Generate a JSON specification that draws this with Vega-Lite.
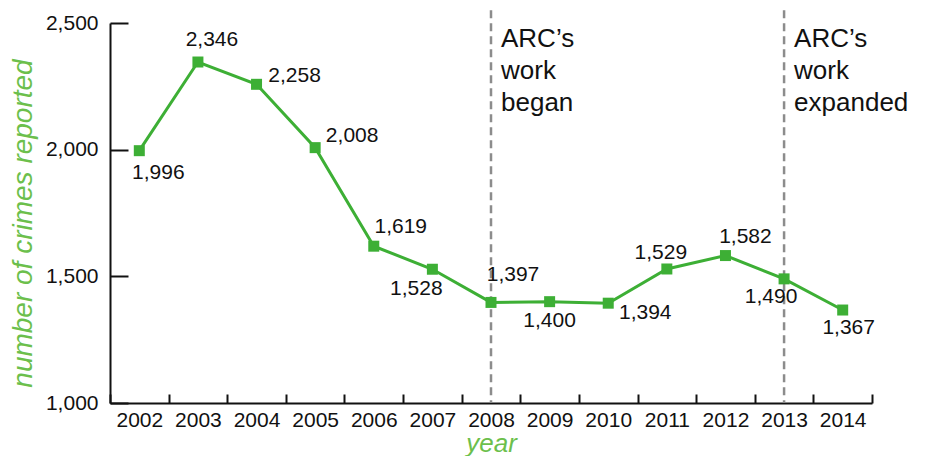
{
  "$schema": "https://vega.github.io/schema/vega-lite/v6.json",
  "width": 762,
  "height": 380,
  "autosize": {"type": "none"},
  "padding": {"left": 110, "top": 23, "right": 53, "bottom": 53},
  "background": "white",
  "config": {
    "font": "Liberation Sans",
    "view": {"stroke": null},
    "axis": {"grid": false, "domainColor": "#111", "tickColor": "#111", "labelColor": "#111", "domainWidth": 2, "tickWidth": 2, "labelFontSize": 21, "titleFontSize": 26, "titleFontStyle": "italic", "titleFontWeight": "normal", "titleColor": "#6cbf4c"}
  },
  "datasets": {
    "crimes": [
      {"year": 2002, "crimes": 1996},
      {"year": 2003, "crimes": 2346},
      {"year": 2004, "crimes": 2258},
      {"year": 2005, "crimes": 2008},
      {"year": 2006, "crimes": 1619},
      {"year": 2007, "crimes": 1528},
      {"year": 2008, "crimes": 1397},
      {"year": 2009, "crimes": 1400},
      {"year": 2010, "crimes": 1394},
      {"year": 2011, "crimes": 1529},
      {"year": 2012, "crimes": 1582},
      {"year": 2013, "crimes": 1490},
      {"year": 2014, "crimes": 1367}
    ],
    "events": [
      {"year": 2008, "note": "ARC’s\nwork\nbegan"},
      {"year": 2013, "note": "ARC’s\nwork\nexpanded"}
    ]
  },
  "data": {"name": "crimes"},
  "encoding": {
    "x": {
      "field": "year", "type": "ordinal", "title": "year",
      "scale": {"type": "band", "paddingInner": 0, "paddingOuter": 0, "domain": [2002,2003,2004,2005,2006,2007,2008,2009,2010,2011,2012,2013,2014]},
      "axis": {"labelAngle": 0, "tickBand": "extent", "tickSize": -9, "labelPadding": 15, "titlePadding": 0}
    }
  },
  "layer": [
    {
      "data": {"name": "events"},
      "mark": {"type": "rule", "stroke": "#8c8c8c", "strokeWidth": 2.5, "strokeDash": [8, 5]},
      "encoding": {"y": {"datum": 2550, "type": "quantitative"}, "y2": {"datum": 1000}}
    },
    {
      "data": {"name": "events"},
      "mark": {"type": "text", "align": "left", "baseline": "alphabetic", "dx": 10, "fontSize": 26, "lineBreak": "\n", "lineHeight": 32, "color": "#111"},
      "encoding": {"y": {"datum": 2405, "type": "quantitative"}, "text": {"field": "note", "type": "nominal"}}
    },
    {
      "mark": {"type": "line", "color": "#3daf35", "strokeWidth": 3},
      "encoding": {
        "y": {
          "field": "crimes", "type": "quantitative", "title": "number of crimes reported",
          "scale": {"domain": [1000, 2500], "nice": false, "zero": false},
          "axis": {"values": [1000, 1500, 2000, 2500], "labelExpr": "format(datum.value, ',')", "tickSize": -18, "labelPadding": 30, "titleFontSize": 28, "titleX": -73, "titleY": 200}
        }
      }
    },
    {
      "mark": {"type": "point", "shape": "square", "filled": true, "size": 121, "color": "#3daf35", "opacity": 1},
      "encoding": {"y": {"field": "crimes", "type": "quantitative"}}
    },
    {
      "encoding": {"y": {"field": "crimes", "type": "quantitative"}, "text": {"field": "crimes", "type": "quantitative", "format": ","}},
      "layer": [
        {"transform": [{"filter": "datum.year == 2002"}], "mark": {"type": "text", "fontSize": 21, "color": "#111", "baseline": "middle", "dx": 19, "dy": 22}},
        {"transform": [{"filter": "datum.year == 2003"}], "mark": {"type": "text", "fontSize": 21, "color": "#111", "baseline": "middle", "dx": 14, "dy": -22}},
        {"transform": [{"filter": "datum.year == 2004"}], "mark": {"type": "text", "fontSize": 21, "color": "#111", "baseline": "middle", "dx": 38, "dy": -8}},
        {"transform": [{"filter": "datum.year == 2005"}], "mark": {"type": "text", "fontSize": 21, "color": "#111", "baseline": "middle", "dx": 37, "dy": -12}},
        {"transform": [{"filter": "datum.year == 2006"}], "mark": {"type": "text", "fontSize": 21, "color": "#111", "baseline": "middle", "dx": 27, "dy": -19}},
        {"transform": [{"filter": "datum.year == 2007"}], "mark": {"type": "text", "fontSize": 21, "color": "#111", "baseline": "middle", "dx": -16, "dy": 20}},
        {"transform": [{"filter": "datum.year == 2008"}], "mark": {"type": "text", "fontSize": 21, "color": "#111", "baseline": "middle", "dx": 22, "dy": -27}},
        {"transform": [{"filter": "datum.year == 2009"}], "mark": {"type": "text", "fontSize": 21, "color": "#111", "baseline": "middle", "dx": 0, "dy": 19}},
        {"transform": [{"filter": "datum.year == 2010"}], "mark": {"type": "text", "fontSize": 21, "color": "#111", "baseline": "middle", "dx": 37, "dy": 10}},
        {"transform": [{"filter": "datum.year == 2011"}], "mark": {"type": "text", "fontSize": 21, "color": "#111", "baseline": "middle", "dx": -6, "dy": -16}},
        {"transform": [{"filter": "datum.year == 2012"}], "mark": {"type": "text", "fontSize": 21, "color": "#111", "baseline": "middle", "dx": 20, "dy": -19}},
        {"transform": [{"filter": "datum.year == 2013"}], "mark": {"type": "text", "fontSize": 21, "color": "#111", "baseline": "middle", "dx": -13, "dy": 18}},
        {"transform": [{"filter": "datum.year == 2014"}], "mark": {"type": "text", "fontSize": 21, "color": "#111", "baseline": "middle", "dx": 6, "dy": 18}}
      ]
    }
  ]
}
